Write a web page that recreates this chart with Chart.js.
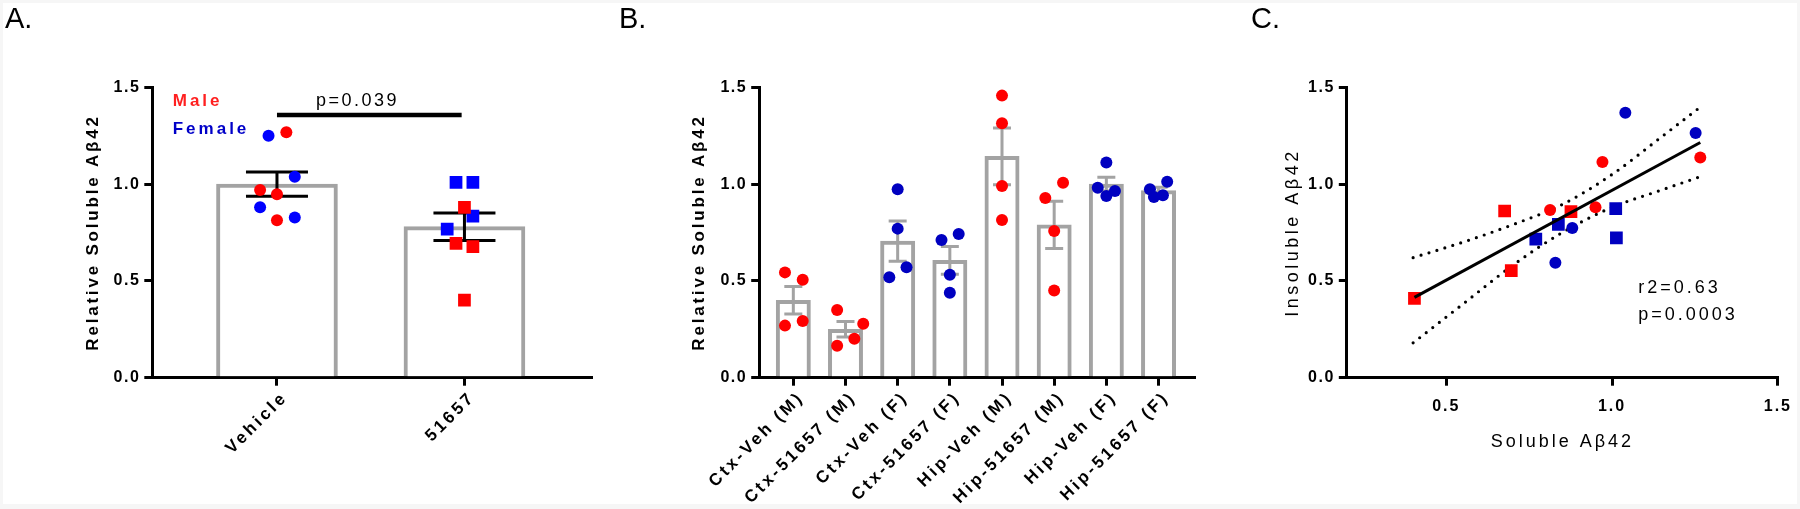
<!DOCTYPE html>
<html>
<head>
<meta charset="utf-8">
<script src="https://cdn.jsdelivr.net/npm/chart.js@4.4.1/dist/chart.umd.min.js"></script>
<style>
  html, body { margin: 0; padding: 0; background: #f6f6f6; }
  #wrap { position: relative; width: 1800px; height: 509px; overflow: hidden; background: #f6f6f6; }
  #inner { position: absolute; left: 3px; top: 3px; width: 1794px; height: 501px; background: #ffffff; }
  canvas { position: absolute; top: 0; }
  .letter { position: absolute; top: 0; font-family: "Liberation Sans", Arial, sans-serif; font-size: 29px; line-height: 36px; color: #000; z-index: 5; }
</style>
</head>
<body>
<div id="wrap">
  <div id="inner"></div>
  <canvas id="cA" width="600" height="509" style="left:0px"></canvas>
  <canvas id="cB" width="600" height="509" style="left:600px"></canvas>
  <canvas id="cC" width="550" height="509" style="left:1250px"></canvas>
  <div class="letter" style="left:5px">A.</div>
  <div class="letter" style="left:619px">B.</div>
  <div class="letter" style="left:1251px">C.</div>
</div>
<script>
// ---------------- DATA ----------------
// Panel A
const aCategories = ['Vehicle', '51657'];
const aMeans = [1.00, 0.78];
const aSem = [0.063, 0.071];
const aVehicleMale = [1.268, 0.970, 0.947, 0.813];
const aVehicleMaleJitter = [0.05, -0.09, 0, 0];
const aVehicleFemale = [1.250, 1.038, 0.880, 0.828];
const aVehicleFemaleJitter = [-0.045, 0.095, -0.09, 0.095];
const aDrugMale = [0.880, 0.694, 0.677, 0.401];
const aDrugMaleJitter = [0, -0.045, 0.045, 0];
const aDrugFemale = [1.009, 1.009, 0.835, 0.768];
const aDrugFemaleJitter = [-0.045, 0.045, 0.045, -0.092];
const aPValue = 'p=0.039';

// Panel B
const bCategories = ['Ctx-Veh (M)', 'Ctx-51657 (M)', 'Ctx-Veh (F)', 'Ctx-51657 (F)',
                     'Hip-Veh (M)', 'Hip-51657 (M)', 'Hip-Veh (F)', 'Hip-51657 (F)'];
const bMeans = [0.400, 0.250, 0.706, 0.606, 1.143, 0.789, 1.000, 0.966];
const bSem = [0.071, 0.040, 0.104, 0.072, 0.147, 0.122, 0.035, 0.018];
const bSex = ['M', 'M', 'F', 'F', 'M', 'M', 'F', 'F'];
const bPoints = [
  [0.544, 0.506, 0.293, 0.269],
  [0.350, 0.279, 0.201, 0.165],
  [0.973, 0.770, 0.570, 0.519],
  [0.742, 0.711, 0.532, 0.439],
  [1.457, 1.314, 0.990, 0.815],
  [1.007, 0.928, 0.758, 0.451],
  [1.111, 0.981, 0.964, 0.939],
  [1.012, 0.973, 0.942, 0.933]
];
const bJitter = [
  [-0.16, 0.18, 0.18, -0.16],
  [-0.16, 0.34, 0.17, -0.16],
  [0, 0, 0.17, -0.16],
  [0.17, -0.16, 0, 0],
  [0, 0, 0, 0],
  [0.17, -0.17, 0, 0],
  [0, -0.165, 0.165, 0],
  [0.166, -0.165, 0.084, -0.088]
];

// Panel C (soluble vs insoluble)
const cVehicleMaleSol = [0.813, 0.950, 0.971, 1.266];
const cVehicleMaleIns = [0.866, 0.880, 1.114, 1.138];
const cVehicleFemaleSol = [0.829, 0.880, 1.040, 1.252];
const cVehicleFemaleIns = [0.594, 0.773, 1.369, 1.264];
const cDrugMaleSol = [0.404, 0.676, 0.696, 0.876];
const cDrugMaleIns = [0.410, 0.861, 0.553, 0.858];
const cDrugFemaleSol = [0.770, 0.838, 1.011, 1.013];
const cDrugFemaleIns = [0.716, 0.792, 0.873, 0.722];
const cFitX = [0.404, 1.266];
const cFitY = [0.415, 1.215];
const cBandX = [0.40, 0.55, 0.70, 0.85, 1.00, 1.15, 1.26];
const cBandUpper = [0.62, 0.70, 0.79, 0.895, 1.05, 1.245, 1.39];
const cBandLower = [0.18, 0.38, 0.58, 0.75, 0.88, 0.97, 1.035];
const cR2 = 'r2=0.63';
const cP = 'p=0.0003';

// ---------------- STYLE ----------------
const FONT = '"Liberation Sans", Arial, sans-serif';
const RED = '#ff0000';
const BLUE_A = '#0000ff';
const BLUE_B = '#0000c0';
const BAR_GREY = '#a3a3a3';
Chart.defaults.color = '#000';
Chart.defaults.font.family = FONT;

const pts = (vals, jit, base) => vals.map((v, i) => ({ x: base + jit[i], y: v }));
const xy = (xs, ys) => xs.map((x, i) => ({ x: x, y: ys[i] }));

// ---------------- PLUGINS ----------------
// per-scale letter spacing for tick labels and axis titles
const spacing = {
  id: 'spacing',
  afterUpdate(chart, args, o) {
    Object.values(chart.scales).forEach(s => {
      const cfg = o[s.id];
      if (!cfg || s._spPatched) return;
      const proto = Object.getPrototypeOf(s);
      s.drawTitle = function () {
        const c = this.ctx, prev = c.letterSpacing;
        c.letterSpacing = cfg.title || '0px';
        proto.drawTitle.apply(this, arguments);
        c.letterSpacing = prev;
      };
      s.drawLabels = function () {
        const c = this.ctx, prev = c.letterSpacing;
        c.letterSpacing = cfg.ticks || '0px';
        proto.drawLabels.apply(this, arguments);
        c.letterSpacing = prev;
      };
      s._spPatched = true;
    });
  }
};
const errorBars = {
  id: 'errorBars',
  afterDatasetDraw(chart, args, o) {
    if (!o || !o.means || args.meta.type !== 'bar') return;
    const ctx = chart.ctx, xs = chart.scales.x, ys = chart.scales.y;
    ctx.save();
    ctx.strokeStyle = o.color; ctx.lineWidth = o.width; ctx.lineCap = 'butt';
    o.means.forEach((m, i) => {
      const x = xs.getPixelForValue(i);
      const yt = ys.getPixelForValue(m + o.sems[i]);
      const yb = ys.getPixelForValue(m - o.sems[i]);
      ctx.beginPath();
      ctx.moveTo(x, yt); ctx.lineTo(x, yb);
      ctx.moveTo(x - o.cap, yt); ctx.lineTo(x + o.cap, yt);
      ctx.moveTo(x - o.cap, yb); ctx.lineTo(x + o.cap, yb);
      ctx.stroke();
    });
    ctx.restore();
  }
};
const notes = {
  id: 'notes',
  afterDraw(chart, args, o) {
    const ctx = chart.ctx, xs = chart.scales.x, ys = chart.scales.y;
    (o.lines || []).forEach(l => {
      ctx.save();
      ctx.strokeStyle = l.color; ctx.lineWidth = l.width;
      ctx.beginPath();
      ctx.moveTo(xs.getPixelForValue(l.x0), ys.getPixelForValue(l.y));
      ctx.lineTo(xs.getPixelForValue(l.x1), ys.getPixelForValue(l.y));
      ctx.stroke();
      ctx.restore();
    });
    (o.texts || []).forEach(t => {
      ctx.save();
      ctx.font = t.font; ctx.fillStyle = t.color; ctx.letterSpacing = t.spacing;
      ctx.textAlign = 'left'; ctx.textBaseline = 'middle';
      ctx.fillText(t.text, xs.getPixelForValue(t.x), ys.getPixelForValue(t.y));
      ctx.restore();
    });
  }
};

// ---------------- SCALES ----------------
function yAxis(title, titleFont, titlePad, width) {
  return {
    type: 'linear', min: 0, max: 1.5,
    afterFit(s) { s.width = width; },
    ticks: { stepSize: 0.5, callback: v => Number(v).toFixed(1), font: { size: 16, weight: 'bold' }, color: '#000', padding: 4 },
    grid: { display: true, drawOnChartArea: false, drawTicks: true, tickLength: 8, lineWidth: 3, color: '#000' },
    border: { display: true, width: 3, color: '#000' },
    title: { display: true, text: title, font: titleFont, color: '#000', padding: { top: titlePad, bottom: 0 } }
  };
}
function xCatAxis(labels, min, max) {
  return {
    type: 'linear', min: min, max: max, offset: false,
    afterBuildTicks(s) { s.ticks = labels.map((l, i) => ({ value: i })); },
    afterFit(s) { s.height = 131.3; },
    ticks: { callback: v => labels[v], autoSkip: false, minRotation: 45, maxRotation: 45, labelOffset: 8,
             font: { size: 17, weight: 'bold' }, color: '#000', padding: 2 },
    grid: { display: true, offset: false, drawOnChartArea: false, drawTicks: true, tickLength: 8, lineWidth: 3, color: '#000' },
    border: { display: true, width: 3, color: '#000' }
  };
}

const common = { responsive: false, animation: false, events: [] };

// ---------------- CHART A ----------------
new Chart(document.getElementById('cA'), {
  type: 'bar',
  data: {
    datasets: [
      { type: 'bar', order: 10, data: aMeans.map((m, i) => ({ x: i, y: m })),
        backgroundColor: '#ffffff', borderColor: BAR_GREY, borderWidth: 4, borderSkipped: 'bottom', barThickness: 121 },
      { type: 'scatter', order: 1, data: pts(aVehicleMale, aVehicleMaleJitter, 0), pointStyle: 'circle', pointRadius: 6, backgroundColor: RED, borderWidth: 0 },
      { type: 'scatter', order: 1, data: pts(aVehicleFemale, aVehicleFemaleJitter, 0), pointStyle: 'circle', pointRadius: 6, backgroundColor: BLUE_A, borderWidth: 0 },
      { type: 'scatter', order: 1, data: pts(aDrugMale, aDrugMaleJitter, 1), pointStyle: 'rect', pointRadius: 9, backgroundColor: RED, borderWidth: 0 },
      { type: 'scatter', order: 1, data: pts(aDrugFemale, aDrugFemaleJitter, 1), pointStyle: 'rect', pointRadius: 9, backgroundColor: BLUE_A, borderWidth: 0 }
    ]
  },
  options: Object.assign({}, common, {
    layout: { padding: { left: 0, right: 9, top: 87.3, bottom: 0 } },
    scales: {
      x: xCatAxis(aCategories, -0.665, 1.675),
      y: yAxis('Relative Soluble A\u03b242', { size: 17, weight: 'bold' }, 83, 152.3)
    },
    plugins: {
      legend: { display: false }, tooltip: { enabled: false },
      spacing: { x: { ticks: '3px' }, y: { ticks: '1.5px', title: '2.8px' } },
      errorBars: { means: aMeans, sems: aSem, color: '#000', width: 3, cap: 31 },
      notes: {
        lines: [{ x0: 0, x1: 0.985, y: 1.357, color: '#000', width: 4.5 }],
        texts: [
          { text: aPValue, x: 0.208, y: 1.428, font: '18px ' + FONT, color: '#000', spacing: '2.5px' },
          { text: 'Male', x: -0.556, y: 1.426, font: 'bold 17px ' + FONT, color: '#ff2020', spacing: '3px' },
          { text: 'Female', x: -0.556, y: 1.285, font: 'bold 17px ' + FONT, color: '#0000c8', spacing: '3px' }
        ]
      }
    }
  }),
  plugins: [spacing, errorBars, notes]
});

// ---------------- CHART B ----------------
const bMale = [], bFemale = [];
bPoints.forEach((vals, g) => {
  const target = bSex[g] === 'M' ? bMale : bFemale;
  vals.forEach((v, k) => target.push({ x: g + bJitter[g][k], y: v }));
});
new Chart(document.getElementById('cB'), {
  type: 'bar',
  data: {
    datasets: [
      { type: 'bar', order: 10, data: bMeans.map((m, i) => ({ x: i, y: m })),
        backgroundColor: '#ffffff', borderColor: BAR_GREY, borderWidth: 4, borderSkipped: 'bottom', barThickness: 34.3 },
      { type: 'scatter', order: 1, data: bMale, pointStyle: 'circle', pointRadius: 6, backgroundColor: RED, borderWidth: 0 },
      { type: 'scatter', order: 1, data: bFemale, pointStyle: 'circle', pointRadius: 6, backgroundColor: BLUE_B, borderWidth: 0 }
    ]
  },
  options: Object.assign({}, common, {
    layout: { padding: { left: 0, right: 3, top: 87.3, bottom: 0 } },
    scales: {
      x: xCatAxis(bCategories, -0.654, 7.68),
      y: yAxis('Relative Soluble A\u03b242', { size: 17, weight: 'bold' }, 89.3, 159.2)
    },
    plugins: {
      legend: { display: false }, tooltip: { enabled: false },
      spacing: { x: { ticks: '3px' }, y: { ticks: '1.5px', title: '2.8px' } },
      errorBars: { means: bMeans, sems: bSem, color: BAR_GREY, width: 3, cap: 9 }
    }
  }),
  plugins: [spacing, errorBars]
});

// ---------------- CHART C ----------------
new Chart(document.getElementById('cC'), {
  type: 'scatter',
  data: {
    datasets: [
      { type: 'line', order: 5, showLine: true, data: xy(cBandX, cBandUpper), borderColor: '#000', borderWidth: 3.2,
        borderDash: [0, 8.3], borderCapStyle: 'round', pointRadius: 0, cubicInterpolationMode: 'monotone', fill: false },
      { type: 'line', order: 5, showLine: true, data: xy(cBandX, cBandLower), borderColor: '#000', borderWidth: 3.2,
        borderDash: [0, 8.3], borderCapStyle: 'round', pointRadius: 0, cubicInterpolationMode: 'monotone', fill: false },
      { type: 'scatter', order: 3, data: xy(cVehicleMaleSol, cVehicleMaleIns), pointStyle: 'circle', pointRadius: 6, backgroundColor: RED, borderWidth: 0 },
      { type: 'scatter', order: 3, data: xy(cVehicleFemaleSol, cVehicleFemaleIns), pointStyle: 'circle', pointRadius: 6, backgroundColor: BLUE_B, borderWidth: 0 },
      { type: 'scatter', order: 3, data: xy(cDrugMaleSol, cDrugMaleIns), pointStyle: 'rect', pointRadius: 9, backgroundColor: RED, borderWidth: 0 },
      { type: 'scatter', order: 3, data: xy(cDrugFemaleSol, cDrugFemaleIns), pointStyle: 'rect', pointRadius: 9, backgroundColor: BLUE_B, borderWidth: 0 },
      { type: 'line', order: 1, showLine: true, data: xy(cFitX, cFitY), borderColor: '#000', borderWidth: 3, pointRadius: 0, fill: false }
    ]
  },
  options: Object.assign({}, common, {
    layout: { padding: { left: 0, right: 16.9, top: 87.3, bottom: 0 } },
    scales: {
      x: {
        type: 'linear', min: 0.2, max: 1.5, offset: false,
        afterBuildTicks(s) { s.ticks = [{ value: 0.5 }, { value: 1.0 }, { value: 1.5 }]; },
        afterFit(s) { s.height = 131.3; },
        ticks: { callback: v => Number(v).toFixed(1), font: { size: 16, weight: 'bold' }, color: '#000', padding: 11, maxRotation: 0 },
        grid: { display: true, offset: false, drawOnChartArea: false, drawTicks: true, tickLength: 8, lineWidth: 3, color: '#000' },
        border: { display: true, width: 3, color: '#000' },
        title: { display: true, text: 'Soluble A\u03b242', font: { size: 18, weight: 'normal' }, color: '#000', padding: { top: 0, bottom: 56.5 } }
      },
      y: yAxis('Insoluble A\u03b242', { size: 18, weight: 'normal' }, 32.5, 96.8)
    },
    plugins: {
      legend: { display: false }, tooltip: { enabled: false },
      spacing: { x: { ticks: '2px', title: '3px' }, y: { ticks: '1.5px', title: '3.5px' } },
      notes: {
        texts: [
          { text: cR2, x: 1.079, y: 0.462, font: '18px ' + FONT, color: '#000', spacing: '3px' },
          { text: cP, x: 1.079, y: 0.324, font: '18px ' + FONT, color: '#000', spacing: '3px' }
        ]
      }
    }
  }),
  plugins: [spacing, notes]
});
</script>
</body>
</html>
